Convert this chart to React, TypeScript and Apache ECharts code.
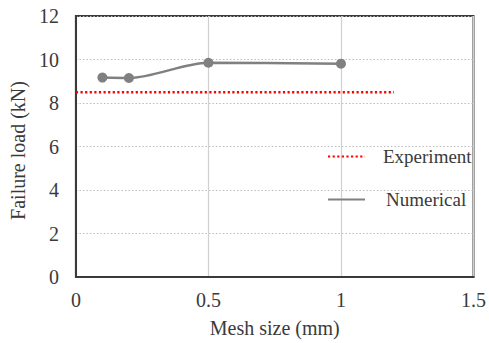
import React, { useEffect, useRef } from "react";
import * as echarts from "echarts";

// Mesh sizes (mm) and numerical failure loads (kN)
const meshSizes = [0.1, 0.2, 0.5, 1.0];
const numericalLoads = [9.17, 9.15, 9.85, 9.81];

// Experimental failure load (kN) drawn as a reference line
const experimentLoad = 8.5;
const experimentSpan = [0, 1.2];

const seriesNames = ["Experiment", "Numerical"];

const FONT = "Liberation Serif";
const TEXT = "#3a3a3a";
const AXIS = "#3a3a3a";

export default function App() {
  const ref = useRef<HTMLDivElement>(null);

  useEffect(() => {
    if (!ref.current) return;
    const chart = echarts.init(ref.current, undefined, { renderer: "svg" });

    const legendText = (padLeft: number) => ({
      fontFamily: FONT,
      fontSize: 19,
      color: TEXT,
      padding: [0, 0, 0, padLeft],
    });

    chart.setOption({
      animation: false,
      backgroundColor: "#ffffff",
      grid: {
        left: 74,
        right: 11,
        top: 16,
        bottom: 66,
        show: true,
        borderColor: AXIS,
        borderWidth: 2,
        containLabel: false,
      },
      xAxis: {
        type: "value",
        min: 0,
        max: 1.5,
        interval: 0.5,
        name: "Mesh size (mm)",
        nameLocation: "middle",
        nameGap: 41,
        nameTextStyle: { fontFamily: FONT, fontSize: 20, color: TEXT },
        axisLine: { show: true, lineStyle: { color: AXIS, width: 2 } },
        axisTick: { show: false },
        axisLabel: {
          margin: 13,
          fontFamily: FONT,
          fontSize: 20,
          color: TEXT,
          formatter: (v: number) => String(v),
        },
        splitLine: { show: true, lineStyle: { color: "#d0d0d0", width: 1.2 } },
      },
      yAxis: {
        type: "value",
        min: 0,
        max: 12,
        interval: 2,
        name: "Failure load (kN)",
        nameLocation: "middle",
        nameGap: 40,
        nameTextStyle: {
          fontFamily: FONT,
          fontSize: 20,
          color: TEXT,
          padding: [0, 8, 0, 0],
        },
        axisLine: { show: true, lineStyle: { color: AXIS, width: 2 } },
        axisTick: { show: false },
        axisLabel: { margin: 17, fontFamily: FONT, fontSize: 20, color: TEXT },
        splitLine: {
          show: true,
          lineStyle: { color: "#bcbcbc", width: 1, type: [1.5, 2] },
        },
      },
      legend: [
        {
          left: 327,
          top: 147,
          padding: 0,
          itemWidth: 37,
          itemHeight: 14,
          data: [{ name: seriesNames[0], itemStyle: { opacity: 0 } }],
          textStyle: legendText(13),
        },
        {
          left: 327,
          top: 190,
          padding: 0,
          itemWidth: 37,
          itemHeight: 14,
          data: [{ name: seriesNames[1], itemStyle: { opacity: 0 } }],
          textStyle: legendText(16),
        },
      ],
      series: [
        {
          name: seriesNames[0],
          type: "line",
          data: experimentSpan.map((x) => [x, experimentLoad]),
          symbol: "none",
          lineStyle: { color: "#ff0000", width: 2.5, type: [2.2, 2.4] },
          itemStyle: { color: "#ff0000" },
          z: 3,
        },
        {
          name: seriesNames[1],
          type: "line",
          data: meshSizes.map((x, i) => [x, numericalLoads[i]]),
          smooth: 0.3,
          symbol: "circle",
          symbolSize: 10,
          lineStyle: { color: "#808080", width: 2.5 },
          itemStyle: { color: "#808080" },
          z: 4,
        },
      ],
    });

    return () => chart.dispose();
  }, []);

  return (
    <div
      ref={ref}
      style={{ position: "fixed", left: 0, top: 0, width: 489, height: 343 }}
    />
  );
}
